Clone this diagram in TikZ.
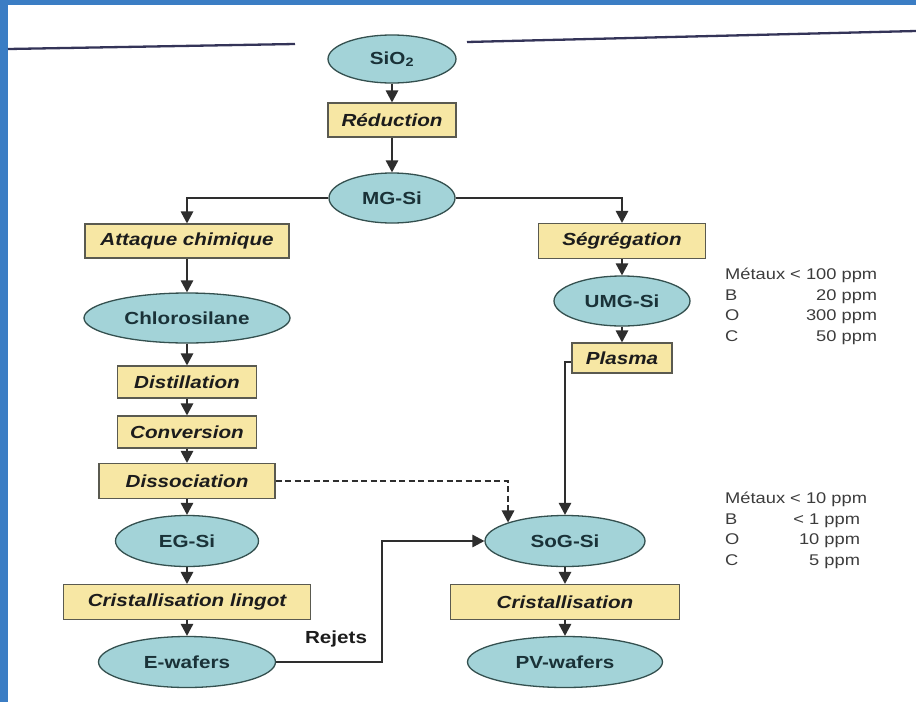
\documentclass[tikz,border=0pt]{standalone}
\usepackage{fontspec}
\setmainfont{Liberation Sans}[FakeStretch=1.18]
\usetikzlibrary{arrows.meta,shapes.geometric,calc}
\definecolor{frameblue}{HTML}{3B7DC4}
\definecolor{ellfill}{HTML}{A3D3D8}
\definecolor{elldraw}{HTML}{34504F}
\definecolor{boxfill}{HTML}{F7E7A4}
\definecolor{boxdraw}{HTML}{5A5A50}
\definecolor{elltext}{HTML}{1A3238}
\definecolor{boxtext}{HTML}{1C1C1C}
\definecolor{linecol}{HTML}{2E2E2E}
\definecolor{rulecol}{HTML}{343458}
\definecolor{sidetext}{HTML}{3C3C3C}
\begin{document}
\begin{tikzpicture}[x=1pt,y=-1pt,
  ell/.style={ellipse,draw=elldraw,fill=ellfill,line width=1.3pt,inner sep=0pt,
    font=\fontsize{17.5}{19}\selectfont\bfseries,text=elltext},
  proc/.style={rectangle,draw=boxdraw,fill=boxfill,line width=1.2pt,inner sep=0pt,
    font=\fontsize{17.5}{19}\selectfont\bfseries\itshape,text=boxtext},
  conn/.style={draw=linecol,line width=1.4pt,-{Triangle[width=12.5pt,length=12pt]}},
  side/.style={inner sep=0pt,anchor=west,text=sidetext,
    font=\fontsize{15.5}{20.5}\selectfont},
  lbl/.style={inner sep=0pt,font=\fontsize{17.5}{19}\selectfont\bfseries,text=boxtext}
]
% frame
\fill[frameblue] (0,0) rectangle (916,702);
\fill[white] (8,5) rectangle (916,702);
\useasboundingbox (0,0) rectangle (916,702);
% top rules
\draw[rulecol,line width=2.3pt] (8,49) -- (295,44);
\draw[rulecol,line width=2.3pt] (467,42) -- (916,31);

% nodes
\node[ell,minimum width=128pt,minimum height=48pt] (sio2) at (392,59) {SiO\textsubscript{2}};
\node[proc,minimum width=128pt,minimum height=34pt] (red) at (392,120) {Réduction};
\node[ell,minimum width=126pt,minimum height=50pt] (mg) at (392,198) {MG-Si};

\node[proc,minimum width=204pt,minimum height=34pt] (att) at (187,241) {Attaque chimique};
\node[ell,minimum width=206pt,minimum height=50pt] (chl) at (187,318) {Chlorosilane};
\node[proc,minimum width=139pt,minimum height=32pt] (dist) at (187,382) {Distillation};
\node[proc,minimum width=139pt,minimum height=32pt] (conv) at (187,432) {Conversion};
\node[proc,minimum width=176pt,minimum height=35pt] (diss) at (187,481) {Dissociation};
\node[ell,minimum width=143pt,minimum height=51pt] (eg) at (187,541) {EG-Si};
\node[proc,minimum width=247pt,minimum height=35pt] (cl) at (187,602) {Cristallisation lingot};
\node[ell,minimum width=177pt,minimum height=51pt] (ew) at (187,662) {E-wafers};

\node[proc,minimum width=167pt,minimum height=35pt] (seg) at (622,241) {Ségrégation};
\node[ell,minimum width=136pt,minimum height=50pt] (umg) at (622,301) {UMG-Si};
\node[proc,minimum width=100pt,minimum height=30pt] (pla) at (622,358) {Plasma};

\node[ell,minimum width=160pt,minimum height=51pt] (sog) at (565,541) {SoG-Si};
\node[proc,minimum width=229pt,minimum height=35pt] (cr) at (565,602) {Cristallisation};
\node[ell,minimum width=195pt,minimum height=51pt] (pv) at (565,662) {PV-wafers};

\node[lbl] (rej) at (336,639) {Rejets};

\node[side] (spec1) at (725,306.5) {\begin{tabular}{@{}l@{}r@{}}
\multicolumn{2}{@{}l@{}}{Métaux < 100 ppm}\\
B & 20 ppm\\
O & 300 ppm\\
C & 50 ppm
\end{tabular}};
\node[side] (spec2) at (725,530.5) {\begin{tabular}{@{}l@{}r@{}}
\multicolumn{2}{@{}l@{}}{Métaux < 10 ppm}\\
B & < 1 ppm\hspace*{7pt}\\
O & 10 ppm\hspace*{7pt}\\
C & 5 ppm\hspace*{7pt}
\end{tabular}};

% connectors
\draw[conn] (sio2) -- (red);
\draw[conn] (red) -- (mg);
\draw[conn] (mg.west) -| (att.north);
\draw[conn] (mg.east) -| (seg.north);
\draw[conn] (att) -- (chl);
\draw[conn] (chl) -- (dist);
\draw[conn] (dist) -- (conv);
\draw[conn] (conv) -- (diss);
\draw[conn] (diss) -- (eg);
\draw[conn] (eg) -- (cl);
\draw[conn] (cl) -- (ew);
\draw[conn] (seg) -- (umg);
\draw[conn] (umg) -- (pla);
\draw[conn] ([yshift=-4pt]pla.west) -| (sog.north);
\draw[conn,dash pattern=on 6pt off 3.5pt] (diss.east) -| (sog.162);
\coordinate (rj) at (382,600);
\draw[conn] (ew.east) -| (rj) |- (sog.west);
\draw[conn] (sog) -- (cr);
\draw[conn] (cr) -- (pv);
\end{tikzpicture}
\end{document}
